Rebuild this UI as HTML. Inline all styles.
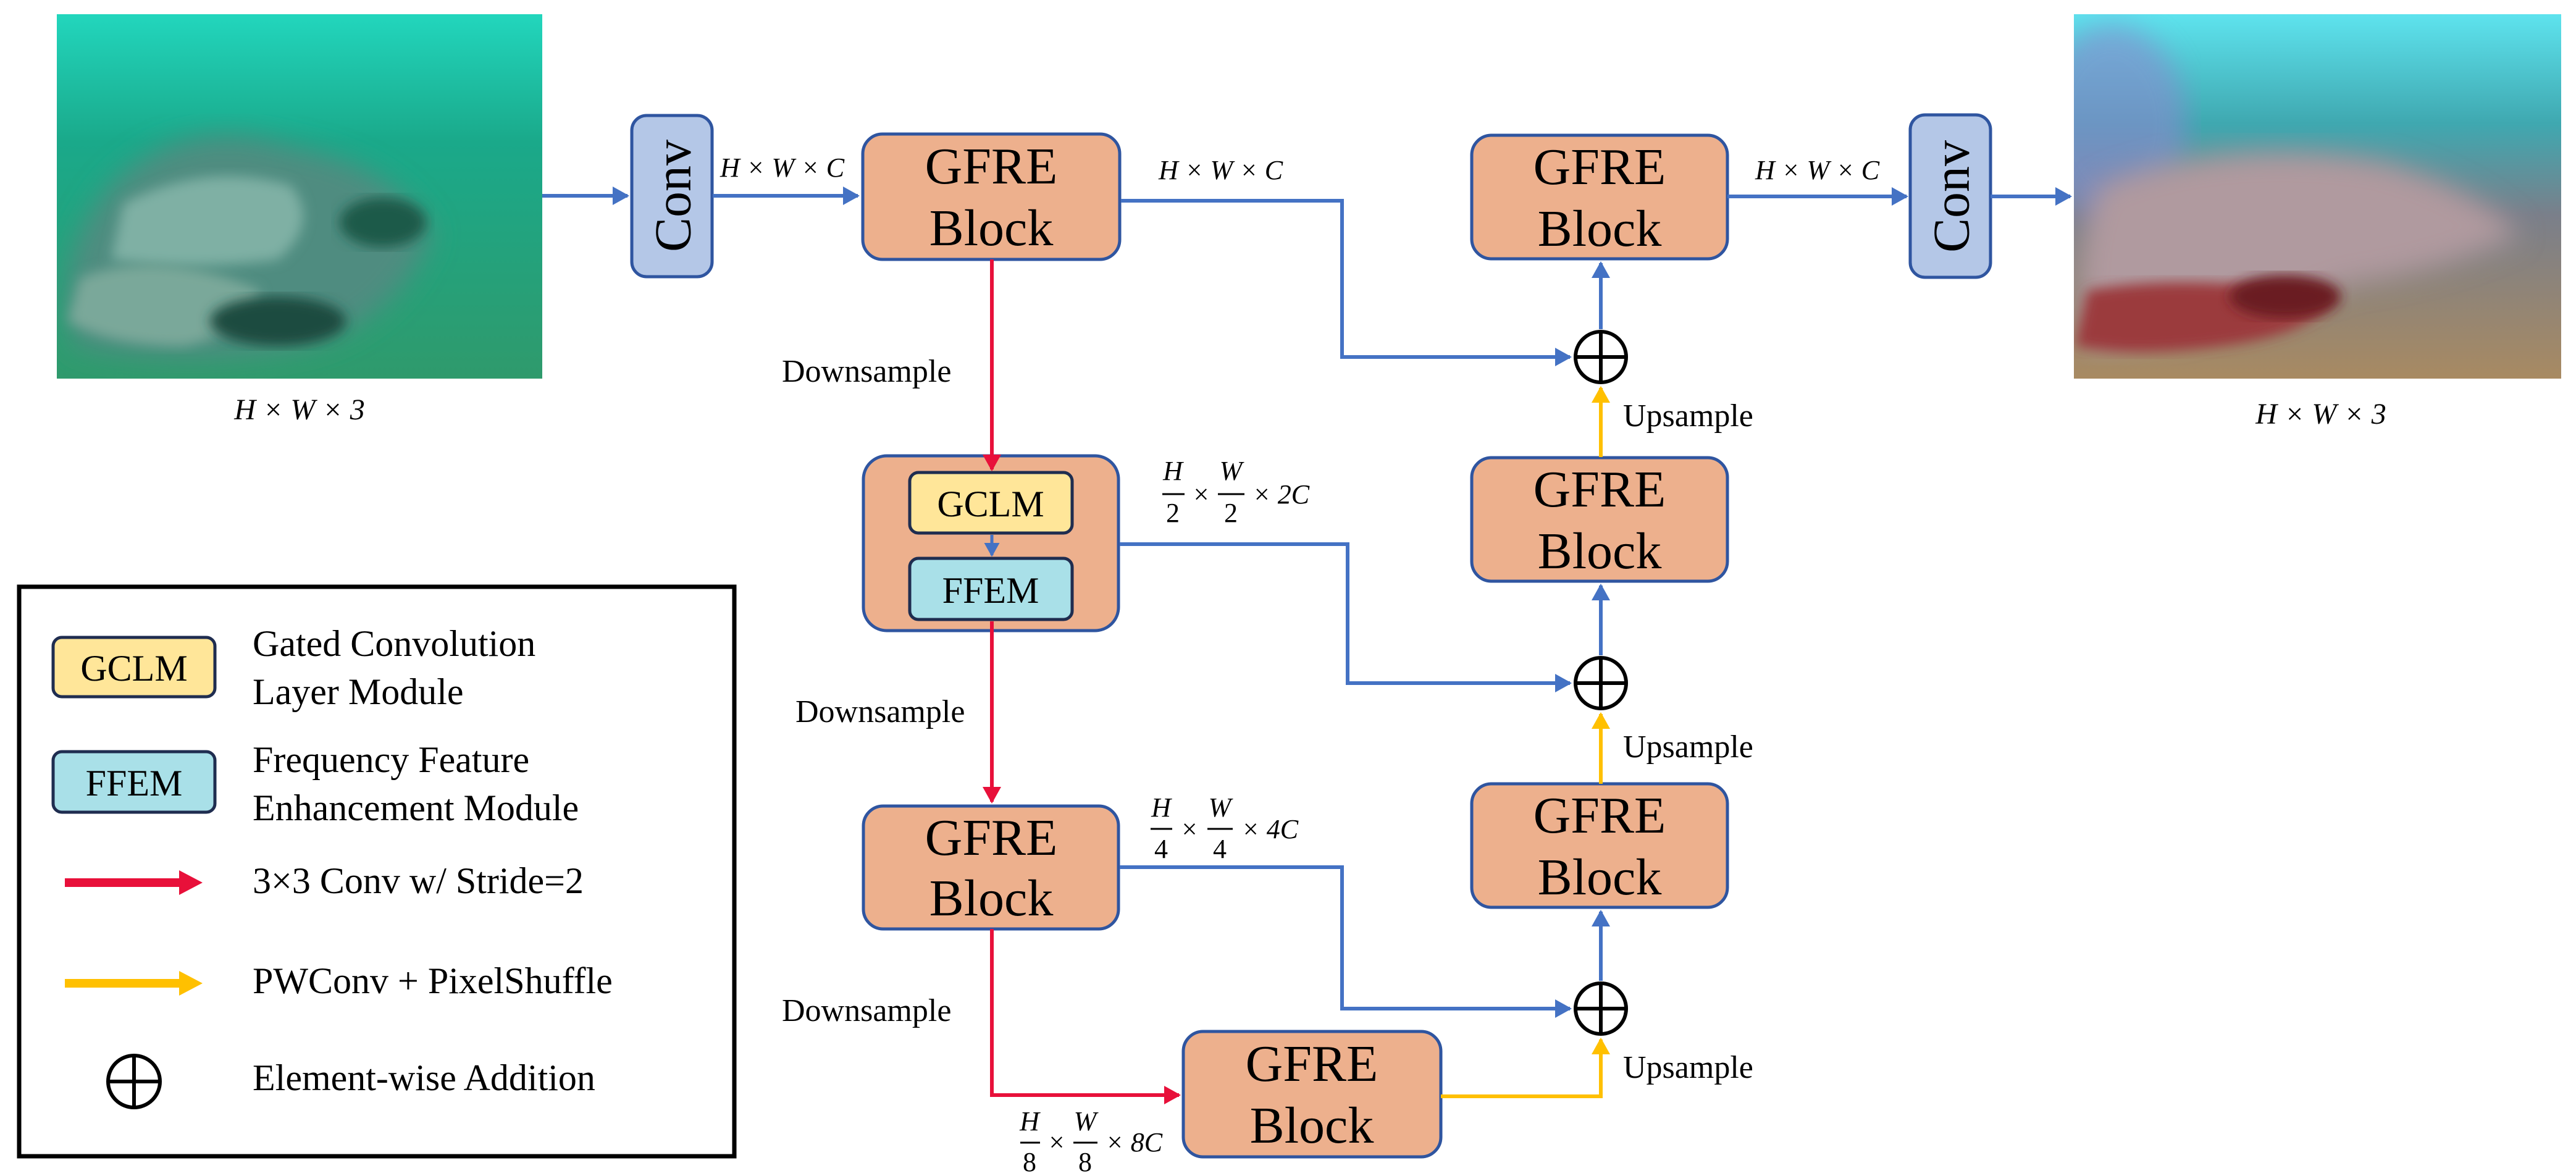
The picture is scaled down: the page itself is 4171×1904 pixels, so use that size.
<!DOCTYPE html>
<html><head><meta charset="utf-8"><style>
html,body{margin:0;padding:0;background:#fff;}
svg{display:block;}
svg text, svg tspan{font-family:"Liberation Serif","DejaVu Serif",serif !important;fill:#000;font-weight:normal;}
svg .m{font-style:italic;font-size:44px;}
svg .n{font-style:normal;font-size:44px;}
</style></head><body>
<svg width="4171" height="1904" viewBox="0 0 4171 1904" xmlns="http://www.w3.org/2000/svg" font-family="'Liberation Serif', serif">
<defs>
<marker id="ab" markerWidth="5" markerHeight="5" refX="4" refY="2.5" orient="auto" markerUnits="strokeWidth"><path d="M0,0 L4.5,2.5 L0,5 z" fill="#4472C4"/></marker>
<marker id="ar" markerWidth="5" markerHeight="5" refX="4" refY="2.5" orient="auto" markerUnits="strokeWidth"><path d="M0,0 L4.5,2.5 L0,5 z" fill="#E8103A"/></marker>
<marker id="ay" markerWidth="5" markerHeight="5" refX="4" refY="2.5" orient="auto" markerUnits="strokeWidth"><path d="M0,0 L4.5,2.5 L0,5 z" fill="#FFC000"/></marker>
<linearGradient id="gl" x1="0" y1="0" x2="0" y2="1"><stop offset="0" stop-color="#22d6bd"/><stop offset="0.35" stop-color="#1aa98a"/><stop offset="1" stop-color="#2f9a6c"/></linearGradient>
<linearGradient id="gr" x1="0" y1="0" x2="0" y2="1"><stop offset="0" stop-color="#5ee3ee"/><stop offset="0.3" stop-color="#3fa8b0"/><stop offset="0.55" stop-color="#7a7f8a"/><stop offset="1" stop-color="#a88a62"/></linearGradient>
<filter id="bl"><feGaussianBlur stdDeviation="22"/></filter>
<filter id="bl2"><feGaussianBlur stdDeviation="10"/></filter>
<clipPath id="cl"><rect x="92" y="23" width="786" height="590"/></clipPath>
<clipPath id="cr"><rect x="3358" y="23" width="789" height="590"/></clipPath>
</defs>

<rect x="92" y="23" width="786" height="590" fill="url(#gl)"/>
<g clip-path="url(#cl)">
<path d="M180,300 Q300,180 480,240 Q640,270 700,380 Q640,520 500,560 Q300,600 120,560 Q80,420 180,300z" fill="#4f8c80" filter="url(#bl)"/>
<path d="M200,330 Q330,260 470,300 Q520,360 450,420 Q300,440 180,420z" fill="#7fb0a4" filter="url(#bl2)"/>
<path d="M130,450 Q260,400 420,470 Q420,530 300,560 Q180,560 110,520z" fill="#7aa89a" filter="url(#bl2)"/>
<ellipse cx="450" cy="520" rx="110" ry="40" fill="#1f4b40" filter="url(#bl2)"/>
<ellipse cx="620" cy="360" rx="70" ry="40" fill="#1f5a4a" filter="url(#bl2)"/>
</g>

<rect x="3358" y="23" width="789" height="590" fill="url(#gr)"/>
<g clip-path="url(#cr)">
<ellipse cx="3420" cy="200" rx="120" ry="160" fill="#8a8ad0" opacity="0.6" filter="url(#bl)"/>
<path d="M3400,300 Q3600,220 3850,260 Q4000,300 4080,380 Q3950,440 3800,460 Q3600,540 3380,560 Q3350,420 3400,300z" fill="#b09a9f" filter="url(#bl)"/>
<path d="M3380,470 Q3550,440 3780,480 Q3750,540 3600,560 Q3450,580 3360,560z" fill="#9b3a3c" filter="url(#bl2)"/>
<ellipse cx="3700" cy="480" rx="90" ry="35" fill="#6a1a20" filter="url(#bl2)"/>
</g>

<g fill="#B4C7E7" stroke="#2F55A0" stroke-width="5">
<rect x="1023" y="187" width="130" height="261" rx="24"/>
<rect x="3093" y="186" width="130" height="263" rx="24"/>
</g>

<g fill="#EDB08D" stroke="#2F55A0" stroke-width="5">
<rect x="1397" y="217" width="416" height="203" rx="32"/>
<rect x="1398" y="738" width="413" height="283" rx="38"/>
<rect x="1398" y="1305" width="413" height="199" rx="32"/>
<rect x="1916" y="1670" width="417" height="203" rx="32"/>
<rect x="2383" y="219" width="414" height="200" rx="32"/>
<rect x="2383" y="741" width="414" height="200" rx="32"/>
<rect x="2383" y="1269" width="414" height="200" rx="32"/>
</g>
<rect x="1473" y="765" width="263" height="98" rx="14" fill="#FFE699" stroke="#1F2D50" stroke-width="5"/>
<rect x="1473" y="904" width="263" height="99" rx="14" fill="#A9E0E8" stroke="#1F2D50" stroke-width="5"/>

<g fill="none" stroke-width="6">
<path d="M878,317 L1016,317" stroke="#4472C4" marker-end="url(#ab)"/>
<path d="M1154,317 L1389,317" stroke="#4472C4" marker-end="url(#ab)"/>
<path d="M1815,325 L2173,325 L2173,578 L2542,578" stroke="#4472C4" marker-end="url(#ab)"/>
<path d="M1813,881 L2182,881 L2182,1106 L2542,1106" stroke="#4472C4" marker-end="url(#ab)"/>
<path d="M1813,1404 L2173,1404 L2173,1633 L2542,1633" stroke="#4472C4" marker-end="url(#ab)"/>
<path d="M2592,533 L2592,426" stroke="#4472C4" marker-end="url(#ab)"/>
<path d="M2592,1061 L2592,948" stroke="#4472C4" marker-end="url(#ab)"/>
<path d="M2592,1588 L2592,1476" stroke="#4472C4" marker-end="url(#ab)"/>
<path d="M2797,318 L3087,318" stroke="#4472C4" marker-end="url(#ab)"/>
<path d="M3223,318 L3352,318" stroke="#4472C4" marker-end="url(#ab)"/>
<path d="M1606,866 L1606,899" stroke="#4472C4" stroke-width="5" marker-end="url(#ab)"/>
<path d="M2592,740 L2592,628" stroke="#FFC000" marker-end="url(#ay)"/>
<path d="M2592,1269 L2592,1156" stroke="#FFC000" marker-end="url(#ay)"/>
<path d="M2333,1775 L2592,1775 L2592,1683" stroke="#FFC000" marker-end="url(#ay)"/>
<path d="M1606,420 L1606,760" stroke="#E8103A" marker-end="url(#ar)"/>
<path d="M1606,1006 L1606,1298" stroke="#E8103A" marker-end="url(#ar)"/>
<path d="M1606,1504 L1606,1773 L1909,1773" stroke="#E8103A" marker-end="url(#ar)"/>
</g>

<g stroke="#000" stroke-width="6" fill="#fff">
<circle cx="2592" cy="578" r="41"/><path d="M2551,578 H2633 M2592,537 V619"/>
<circle cx="2592" cy="1106" r="41"/><path d="M2551,1106 H2633 M2592,1065 V1147"/>
<circle cx="2592" cy="1633" r="41"/><path d="M2551,1633 H2633 M2592,1592 V1674"/>
</g>

<text font-family="Liberation Serif" transform="translate(1090,317) rotate(-90)" text-anchor="middle" dominant-baseline="central" font-size="84">Conv</text>
<text font-family="Liberation Serif" transform="translate(3160,318) rotate(-90)" text-anchor="middle" dominant-baseline="central" font-size="84">Conv</text>

<g text-anchor="middle" font-size="84" font-family="Liberation Serif">
<text font-family="Liberation Serif" x="1605" y="297">GFRE</text><text font-family="Liberation Serif" x="1605" y="397">Block</text>
<text font-family="Liberation Serif" x="1605" y="1384">GFRE</text><text font-family="Liberation Serif" x="1605" y="1482">Block</text>
<text font-family="Liberation Serif" x="2124" y="1750">GFRE</text><text font-family="Liberation Serif" x="2124" y="1850">Block</text>
<text font-family="Liberation Serif" x="2590" y="298">GFRE</text><text font-family="Liberation Serif" x="2590" y="398">Block</text>
<text font-family="Liberation Serif" x="2590" y="820">GFRE</text><text font-family="Liberation Serif" x="2590" y="920">Block</text>
<text font-family="Liberation Serif" x="2590" y="1348">GFRE</text><text font-family="Liberation Serif" x="2590" y="1448">Block</text>
</g>
<text font-family="Liberation Serif" x="1604" y="836" text-anchor="middle" font-size="60">GCLM</text>
<text font-family="Liberation Serif" x="1604" y="976" text-anchor="middle" font-size="60">FFEM</text>

<g font-size="52" font-family="Liberation Serif">
<text font-family="Liberation Serif" x="1266" y="618">Downsample</text>
<text font-family="Liberation Serif" x="1288" y="1169">Downsample</text>
<text font-family="Liberation Serif" x="1266" y="1653">Downsample</text>
<text font-family="Liberation Serif" x="2628" y="690">Upsample</text>
<text font-family="Liberation Serif" x="2628" y="1226">Upsample</text>
<text font-family="Liberation Serif" x="2628" y="1745">Upsample</text>
</g>
<text x="1166" y="286" class="m">H × W × C</text>
<text x="1876" y="290" class="m">H × W × C</text>
<text x="2842" y="290" class="m">H × W × C</text>
<text x="485" y="679" text-anchor="middle" class="m" style="font-size:48px">H × W × 3</text>
<text x="3758" y="686" text-anchor="middle" class="m" style="font-size:48px">H × W × 3</text>

<text x="1899" y="777" text-anchor="middle" class="m">H</text><text x="1899" y="845" text-anchor="middle" class="n">2</text>
<text x="1945" y="815" text-anchor="middle" class="n">×</text>
<text x="1993" y="777" text-anchor="middle" class="m">W</text><text x="1993" y="845" text-anchor="middle" class="n">2</text>
<text x="2028" y="815" class="m">× 2C</text>

<text x="1880" y="1322" text-anchor="middle" class="m">H</text><text x="1880" y="1389" text-anchor="middle" class="n">4</text>
<text x="1926" y="1357" text-anchor="middle" class="n">×</text>
<text x="1975" y="1322" text-anchor="middle" class="m">W</text><text x="1975" y="1389" text-anchor="middle" class="n">4</text>
<text x="2010" y="1357" class="m">× 4C</text>

<text x="1667" y="1830" text-anchor="middle" class="m">H</text><text x="1667" y="1896" text-anchor="middle" class="n">8</text>
<text x="1711" y="1864" text-anchor="middle" class="n">×</text>
<text x="1757" y="1830" text-anchor="middle" class="m">W</text><text x="1757" y="1896" text-anchor="middle" class="n">8</text>
<text x="1790" y="1864" class="m">× 8C</text>
<g stroke="#000" stroke-width="3">
<path d="M1882,800 H1918 M1972,800 H2015"/>
<path d="M1863,1342 H1898 M1955,1342 H1996"/>
<path d="M1652,1850 H1684 M1738,1850 H1777"/>
</g>

<rect x="31" y="950" width="1158" height="922" fill="none" stroke="#000" stroke-width="7"/>
<rect x="86" y="1032" width="262" height="96" rx="14" fill="#FFE699" stroke="#1F2D50" stroke-width="5"/>
<rect x="86" y="1217" width="262" height="98" rx="14" fill="#A9E0E8" stroke="#1F2D50" stroke-width="5"/>
<text font-family="Liberation Serif" x="217" y="1102" text-anchor="middle" font-size="60">GCLM</text>
<text font-family="Liberation Serif" x="217" y="1288" text-anchor="middle" font-size="60">FFEM</text>
<g font-size="60" font-family="Liberation Serif">
<text font-family="Liberation Serif" x="409" y="1062">Gated Convolution</text>
<text font-family="Liberation Serif" x="409" y="1140">Layer Module</text>
<text font-family="Liberation Serif" x="409" y="1250">Frequency Feature</text>
<text font-family="Liberation Serif" x="409" y="1328">Enhancement Module</text>
<text font-family="Liberation Serif" x="409" y="1446">3×3 Conv w/ Stride=2</text>
<text font-family="Liberation Serif" x="409" y="1608">PWConv + PixelShuffle</text>
<text font-family="Liberation Serif" x="409" y="1765">Element-wise Addition</text>
</g>
<path d="M105,1422 H290 V1409 L328,1429 L290,1449 V1436 H105z" fill="#E8103A"/>
<path d="M105,1585 H290 V1572 L328,1592 L290,1612 V1599 H105z" fill="#FFC000"/>
<g stroke="#000" stroke-width="6" fill="none">
<circle cx="217" cy="1751" r="42"/><path d="M175,1751 H259 M217,1709 V1793"/>
</g>
</svg>
</body></html>
